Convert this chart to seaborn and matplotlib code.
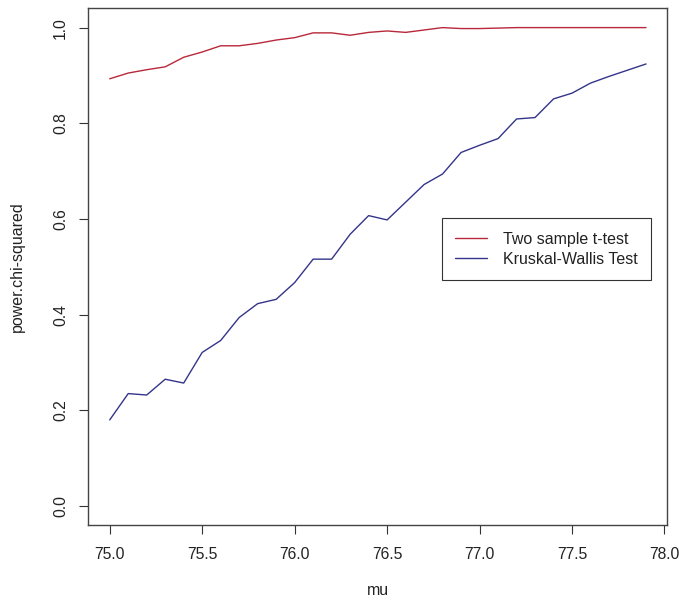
import pandas as pd
import matplotlib.pyplot as plt
import seaborn as sns

sns.set_style("ticks")
plt.rcParams['font.family'] = ['Liberation Sans', 'DejaVu Sans']

# valores
mu = [75.0, 75.1, 75.2, 75.3, 75.4, 75.5, 75.6, 75.7, 75.8, 75.9,
      76.0, 76.1, 76.2, 76.3, 76.4, 76.5, 76.6, 76.7, 76.8, 76.9,
      77.0, 77.1, 77.2, 77.3, 77.4, 77.5, 77.6, 77.7, 77.8, 77.9]
power_t = [0.893, 0.905, 0.912, 0.918, 0.938, 0.949, 0.962, 0.962, 0.967, 0.974,
           0.979, 0.989, 0.989, 0.984, 0.990, 0.993, 0.990, 0.995, 1.000, 0.998,
           0.998, 0.999, 1.000, 1.000, 1.000, 1.000, 1.000, 1.000, 1.000, 1.000]
power_kw = [0.180, 0.235, 0.232, 0.265, 0.257, 0.321, 0.346, 0.394, 0.423, 0.432,
            0.467, 0.516, 0.516, 0.568, 0.607, 0.598, 0.635, 0.672, 0.694, 0.739,
            0.754, 0.768, 0.809, 0.812, 0.851, 0.863, 0.884, 0.898, 0.911, 0.924]
series = ['Two sample t-test', 'Kruskal-Wallis Test']

df = pd.DataFrame({
    'mu': mu + mu,
    'power': power_t + power_kw,
    'test': [series[0]] * len(mu) + [series[1]] * len(mu),
})

fig = plt.figure(figsize=(6.79, 6.05), dpi=100)
ax = fig.add_axes([0.130, 0.132, 0.853, 0.854])

sns.lineplot(data=df, x='mu', y='power', hue='test', hue_order=series,
             palette=['#b8283a', '#34348a'], linewidth=1.0, ax=ax)

ax.set_xlim(74.884, 78.016)
ax.set_ylim(-0.04, 1.04)
ax.set_xticks([75.0, 75.5, 76.0, 76.5, 77.0, 77.5, 78.0])
ax.set_xticklabels(['75.0', '75.5', '76.0', '76.5', '77.0', '77.5', '78.0'])
ax.set_yticks([0.0, 0.2, 0.4, 0.6, 0.8, 1.0])
ax.set_yticklabels(['0.0', '0.2', '0.4', '0.6', '0.8', '1.0'], rotation=90, va='center')
ax.tick_params(axis='both', direction='out', length=6.5, width=0.8, colors='#333333',
               labelsize=11.3, labelcolor='#222222')
ax.tick_params(axis='x', pad=9)
ax.tick_params(axis='y', pad=8)
for s in ax.spines.values():
    s.set_visible(True)
    s.set_color('#444444')
    s.set_linewidth(1.0)

ax.set_xlabel('mu', fontsize=11.5, color='#222222', labelpad=15)
ax.set_ylabel('power.chi-squared', fontsize=11.5, color='#222222', labelpad=20)

leg = ax.legend(loc='upper left', bbox_to_anchor=(0.61, 0.594), fontsize=11.5,
                frameon=True, fancybox=False, edgecolor='#333333', framealpha=1,
                handlelength=2.0, handletextpad=1.0, borderpad=0.85, labelspacing=0.3,
                borderaxespad=0)
leg.get_frame().set_linewidth(0.8)
for t in leg.get_texts():
    t.set_color('#222222')

plt.savefig('out.png', dpi=100)
